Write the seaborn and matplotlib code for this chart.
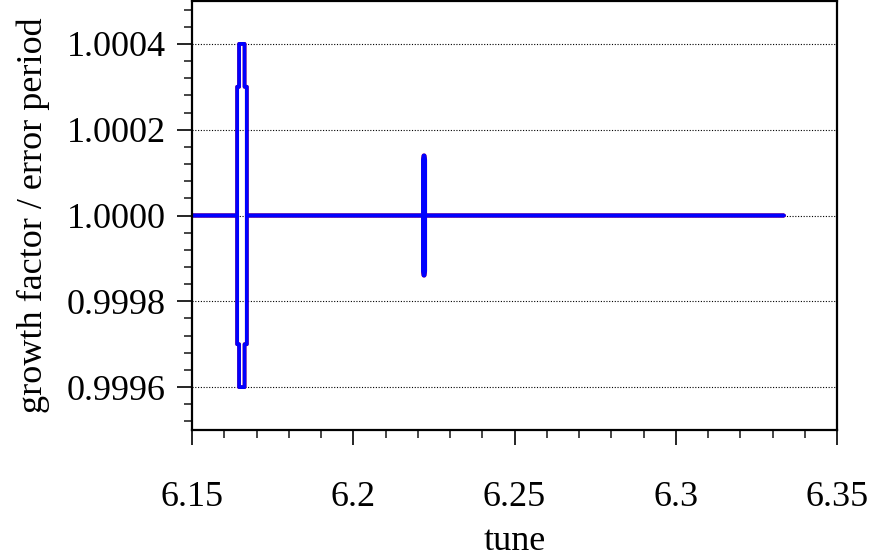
import numpy as np
import pandas as pd
import seaborn as sns
import matplotlib.pyplot as plt
from matplotlib.ticker import MultipleLocator, FixedLocator

# upper branch of the growth factor (lower branch is the mirror around 1)
tune = [6.15, 6.1640, 6.1640, 6.1646, 6.1646, 6.1663, 6.1663, 6.1670, 6.1670,
        6.2216, 6.2216, 6.2218, 6.2221, 6.2223, 6.2223, 6.3335]
upper = [1.0, 1.0, 1.0003, 1.0003, 1.0004, 1.0004, 1.0003, 1.0003, 1.0,
         1.0, 1.00013, 1.00014, 1.00014, 1.00013, 1.0, 1.0]
lower = [2.0 - v for v in upper]

xticks = [6.15, 6.2, 6.25, 6.3, 6.35]
xlabels = ['6.15', '6.2', '6.25', '6.3', '6.35']
yticks = [0.9996, 0.9998, 1.0, 1.0002, 1.0004]
ylabels = ['0.9996', '0.9998', '1.0000', '1.0002', '1.0004']

df = pd.DataFrame({'tune': tune * 2, 'value': upper + lower,
                   'branch': ['upper'] * len(tune) + ['lower'] * len(tune)})

sns.set_theme(style='ticks')
plt.rcParams['font.family'] = ['Liberation Serif', 'DejaVu Serif']
plt.rcParams['text.color'] = 'black'
plt.rcParams['axes.labelcolor'] = 'black'

fig = plt.figure(figsize=(8.71, 5.58), dpi=100)
ax = fig.add_axes([192 / 871, 1 - 430 / 558, 645 / 871, 429 / 558])

for col in ['red', 'blue']:
    for br in ['upper', 'lower']:
        d = df[df.branch == br]
        sns.lineplot(x=d.tune, y=d.value, sort=False, estimator=None,
                     color=col, lw=2.7, ax=ax)

ax.set_xlim(6.15, 6.35)
ax.set_ylim(0.9995, 1.0005)
ax.xaxis.set_major_locator(FixedLocator(xticks))
ax.set_xticklabels(xlabels)
ax.yaxis.set_major_locator(FixedLocator(yticks))
ax.set_yticklabels(ylabels)
ax.xaxis.set_minor_locator(MultipleLocator(0.01))
ax.yaxis.set_minor_locator(MultipleLocator(0.00004))

ax.grid(axis='y', which='major', color='black', ls=(0, (1, 1.5)), lw=0.8)
ax.tick_params(which='major', direction='out', length=11, width=1.2,
               labelsize=26, colors='black')
ax.tick_params(which='minor', direction='out', length=6, width=1.2)
ax.tick_params(axis='x', which='major', pad=26)
ax.tick_params(axis='y', which='major', pad=8)
for s in ax.spines.values():
    s.set_linewidth(1.6)
    s.set_color('black')
    s.set_visible(True)

ax.set_xlabel('tune', fontsize=26, labelpad=8, color='black')
ax.set_ylabel('growth factor / error period', fontsize=26, labelpad=12,
              color='black')

fig.savefig('out.png', dpi=100)
